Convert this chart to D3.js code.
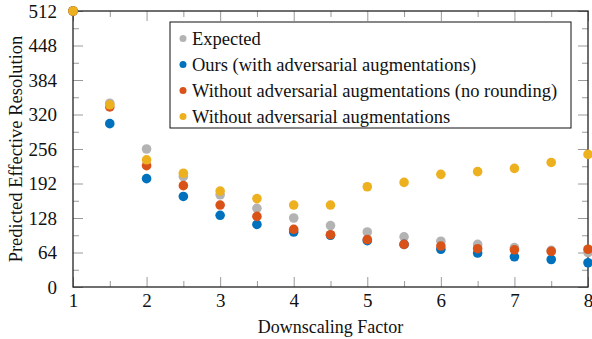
<!DOCTYPE html>
<html>
<head>
<meta charset="utf-8">
<script src="https://cdn.jsdelivr.net/npm/d3@7"></script>
<style>
  body { margin: 0; background: #fff; }
</style>
</head>
<body>
<div id="chart"></div>
<script>
// data
var factors = [1, 1.5, 2, 2.5, 3, 3.5, 4, 4.5, 5, 5.5, 6, 6.5, 7, 7.5, 8];
var expected = [512, 341, 256, 205, 171, 146, 128, 114, 102, 93, 85, 79, 73, 68, 64];
var ours = [512, 303, 201, 168, 133, 116, 102, 96, 86, 79, 70, 63, 56, 51, 45];
var noRounding = [512, 334, 225, 188, 152, 131, 107, 97, 88, 79, 76, 71, 69, 66, 70];
var withoutAdv = [512, 338, 236, 211, 178, 164, 152, 152, 186, 194, 209, 214, 220, 231, 246];

var yTicks = [0, 64, 128, 192, 256, 320, 384, 448, 512];
var xTicks = [1, 2, 3, 4, 5, 6, 7, 8];

var series = [
  {name: "Expected", values: expected, color: "#b3b3b3"},
  {name: "Ours (with adversarial augmentations)", values: ours, color: "#0072bd"},
  {name: "Without adversarial augmentations (no rounding)", values: noRounding, color: "#d95319"},
  {name: "Without adversarial augmentations", values: withoutAdv, color: "#edb120"}
];

var serif = "'Liberation Serif', 'Times New Roman', Times, 'DejaVu Serif', serif";

var svgWidth = 592, svgHeight = 339;
var margin = {top: 11, right: 4, bottom: 52, left: 73};
var width = svgWidth - margin.left - margin.right;
var height = svgHeight - margin.top - margin.bottom;

var svg = d3.select("#chart").append("svg")
  .attr("width", svgWidth)
  .attr("height", svgHeight);

var g = svg.append("g")
  .attr("transform", `translate(${margin.left}, ${margin.top})`);

var x = d3.scaleLinear().domain([1, 8]).range([0, width]);
var y = d3.scaleLinear().domain([0, 512]).range([height, 0]);

var xMinor = d3.range(1.5, 8, 1);
var yMinor = d3.range(32, 512, 64);

// ticks pointing inward on all four sides
function tickAxis(axis, len) {
  return axis.tickSizeInner(-len).tickSizeOuter(0);
}

var tickColor = "#9a9a9a";

var bottomAxisG = g.append("g").attr("transform", `translate(0, ${height})`)
  .call(tickAxis(d3.axisBottom(x).tickValues(xTicks).tickFormat(d3.format("d")), 10).tickPadding(7));
bottomAxisG.append("g").call(tickAxis(d3.axisBottom(x).tickValues(xMinor).tickFormat(""), 6));

var topAxisG = g.append("g")
  .call(tickAxis(d3.axisTop(x).tickValues(xTicks).tickFormat(""), 10));
topAxisG.append("g").call(tickAxis(d3.axisTop(x).tickValues(xMinor).tickFormat(""), 6));

var leftAxisG = g.append("g")
  .call(tickAxis(d3.axisLeft(y).tickValues(yTicks), 10).tickPadding(16));
leftAxisG.append("g").call(tickAxis(d3.axisLeft(y).tickValues(yMinor).tickFormat(""), 6));

var rightAxisG = g.append("g").attr("transform", `translate(${width}, 0)`)
  .call(tickAxis(d3.axisRight(y).tickValues(yTicks).tickFormat(""), 10));
rightAxisG.append("g").call(tickAxis(d3.axisRight(y).tickValues(yMinor).tickFormat(""), 6));

g.selectAll(".domain").remove();
g.selectAll(".tick line").attr("stroke", tickColor).attr("stroke-width", 1);
g.selectAll(".tick text")
  .attr("font-size", 19)
  .attr("font-family", serif)
  .attr("fill", "#111");
g.selectAll("g").attr("font-family", serif);

// frame
g.append("rect")
  .attr("width", width)
  .attr("height", height)
  .attr("fill", "none")
  .attr("stroke", "#222")
  .attr("stroke-width", 1.3);

// points
series.forEach(s => {
  g.append("g").selectAll("circle")
    .data(s.values.map((v, i) => ({x: factors[i], y: v})))
    .join("circle")
    .attr("cx", d => x(d.x))
    .attr("cy", d => y(d.y))
    .attr("r", 4.8)
    .attr("fill", s.color);
});

// legend
var legend = svg.append("g").attr("transform", "translate(170, 22)");
legend.append("rect")
  .attr("width", 401)
  .attr("height", 106)
  .attr("fill", "#fff")
  .attr("stroke", "#111")
  .attr("stroke-width", 1);

var items = legend.selectAll(".item")
  .data(series)
  .join("g")
  .attr("transform", (d, i) => `translate(0, ${16.5 + i * 26})`);
items.append("circle")
  .attr("cx", 13)
  .attr("cy", 0)
  .attr("r", 3.5)
  .attr("fill", d => d.color);
items.append("text")
  .attr("x", 22)
  .attr("y", 6)
  .attr("font-family", serif)
  .attr("font-size", 18.5)
  .attr("fill", "#111")
  .text(d => d.name);

// axis labels
svg.append("text")
  .attr("transform", `translate(${margin.left + width / 2}, 333)`)
  .attr("text-anchor", "middle")
  .attr("font-family", serif)
  .attr("font-size", 18)
  .attr("fill", "#111")
  .text("Downscaling Factor");

svg.append("text")
  .attr("transform", `translate(22, ${margin.top + height / 2}) rotate(-90)`)
  .attr("text-anchor", "middle")
  .attr("font-family", serif)
  .attr("font-size", 18.5)
  .attr("fill", "#111")
  .text("Predicted Effective Resolution");
</script>
</body>
</html>
